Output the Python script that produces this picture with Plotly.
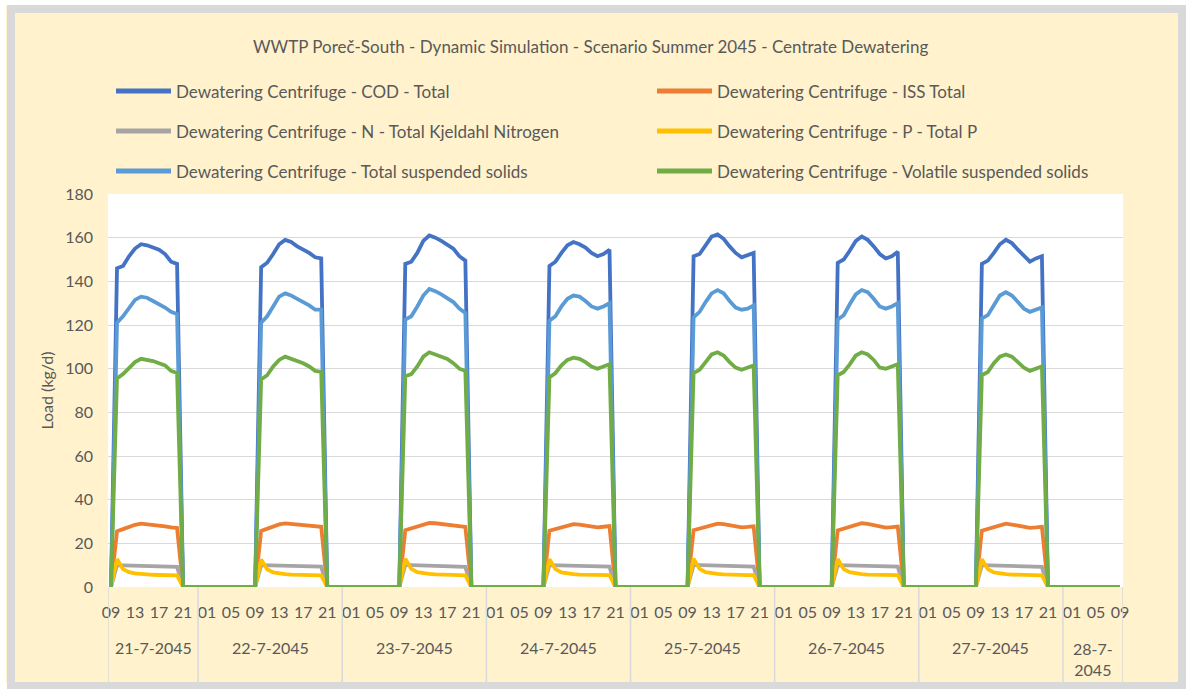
import plotly.graph_objects as go
import pandas as pd

# ---------------- data ----------------
title_text = "WWTP Poreč-South - Dynamic Simulation - Scenario Summer 2045 - Centrate Dewatering"
y_title = "Load (kg/d)"

series_names = [
    "Dewatering Centrifuge - COD - Total",
    "Dewatering Centrifuge - ISS Total",
    "Dewatering Centrifuge - N - Total Kjeldahl Nitrogen",
    "Dewatering Centrifuge - P - Total P",
    "Dewatering Centrifuge - Total suspended solids",
    "Dewatering Centrifuge - Volatile suspended solids",
]
series_colors = ["#4472C4", "#ED7D31", "#A5A5A5", "#FFC000", "#5B9BD5", "#70AD47"]

# hourly time stamps 21-7-2045 09:00 ... 28-7-2045 09:00
times = pd.date_range("2045-07-21 09:00", "2045-07-28 09:00", freq="h")

# centrifuge running hours each day (10:00 .. 20:00), one list per day
cod_days = [
    [146.0, 147.0, 151.5, 155.0, 157.0, 156.5, 155.5, 154.5, 152.5, 149.0, 148.0],
    [146.5, 148.5, 152.5, 157.0, 159.0, 158.0, 156.0, 154.5, 153.0, 151.0, 150.5],
    [148.0, 149.0, 153.0, 158.5, 161.0, 160.0, 158.5, 157.0, 155.0, 151.5, 149.5],
    [147.0, 149.0, 153.0, 156.5, 158.0, 157.0, 155.5, 153.0, 151.5, 152.5, 154.5],
    [151.5, 152.5, 156.5, 160.5, 161.5, 159.5, 156.0, 153.0, 151.0, 152.0, 153.0],
    [148.5, 150.0, 154.0, 158.5, 160.5, 159.0, 156.0, 152.5, 150.5, 151.5, 153.5],
    [148.0, 149.5, 153.0, 157.0, 159.0, 157.5, 154.5, 151.5, 149.0, 150.5, 151.5],
]
iss_days = [
    [25.5, 26.5, 27.5, 28.5, 29.0, 28.8, 28.5, 28.2, 27.8, 27.3, 27.0],
    [25.7, 26.7, 27.6, 28.7, 29.1, 28.9, 28.6, 28.3, 28.1, 27.9, 27.6],
    [26.0, 26.8, 27.7, 28.6, 29.3, 29.2, 28.9, 28.5, 28.2, 27.8, 27.5],
    [25.8, 26.6, 27.4, 28.3, 28.8, 28.6, 28.1, 27.6, 27.3, 27.6, 27.9],
    [26.0, 26.8, 27.6, 28.5, 29.0, 28.8, 28.2, 27.6, 27.3, 27.5, 27.8],
    [25.9, 26.7, 27.6, 28.5, 29.2, 28.9, 28.2, 27.5, 27.2, 27.4, 27.7],
    [25.8, 26.7, 27.5, 28.4, 29.0, 28.6, 28.0, 27.4, 27.1, 27.3, 27.6],
]
tkn_days = [
    [10.0, 9.9, 9.8, 9.8, 9.7, 9.7, 9.6, 9.5, 9.4, 9.3, 9.2],
    [10.0, 9.9, 9.9, 9.8, 9.8, 9.7, 9.6, 9.5, 9.4, 9.4, 9.3],
    [10.1, 10.0, 9.9, 9.9, 9.8, 9.7, 9.6, 9.5, 9.4, 9.3, 9.2],
    [10.0, 9.9, 9.8, 9.8, 9.7, 9.6, 9.5, 9.4, 9.3, 9.3, 9.3],
    [10.1, 10.0, 9.9, 9.8, 9.8, 9.7, 9.5, 9.4, 9.3, 9.3, 9.3],
    [10.0, 9.9, 9.9, 9.8, 9.7, 9.6, 9.5, 9.4, 9.3, 9.3, 9.3],
    [10.0, 9.9, 9.8, 9.8, 9.7, 9.6, 9.5, 9.4, 9.3, 9.3, 9.2],
]
tp_days = [
    [12.8, 8.2, 6.8, 6.2, 5.9, 5.7, 5.6, 5.5, 5.5, 5.4, 5.3],
    [12.6, 8.1, 6.7, 6.2, 5.9, 5.7, 5.6, 5.5, 5.4, 5.4, 5.3],
    [12.9, 8.3, 6.8, 6.3, 6.0, 5.8, 5.6, 5.5, 5.5, 5.4, 5.3],
    [12.7, 8.2, 6.7, 6.2, 5.9, 5.7, 5.6, 5.5, 5.4, 5.4, 5.4],
    [13.0, 8.3, 6.8, 6.3, 6.0, 5.8, 5.6, 5.5, 5.4, 5.4, 5.4],
    [12.8, 8.2, 6.8, 6.2, 5.9, 5.7, 5.6, 5.5, 5.4, 5.4, 5.4],
    [12.7, 8.2, 6.7, 6.2, 5.9, 5.7, 5.6, 5.5, 5.4, 5.4, 5.3],
]
tss_days = [
    [121.0, 124.0, 127.5, 131.5, 133.0, 132.5, 131.0, 129.5, 128.0, 126.0, 125.0],
    [121.0, 124.0, 128.5, 133.0, 134.5, 133.5, 132.0, 130.5, 129.0, 127.0, 127.0],
    [122.5, 124.0, 128.5, 133.5, 136.5, 135.5, 134.0, 132.5, 130.5, 127.5, 125.5],
    [122.0, 124.0, 128.5, 132.0, 133.5, 133.0, 131.0, 128.5, 127.5, 128.5, 130.0],
    [123.5, 126.0, 130.5, 134.5, 136.0, 134.5, 131.0, 128.0, 127.0, 127.5, 129.0],
    [122.5, 124.5, 129.5, 134.0, 136.0, 135.0, 132.0, 128.5, 127.5, 128.5, 130.0],
    [123.0, 124.5, 129.0, 133.5, 135.0, 133.5, 130.5, 127.5, 126.0, 127.0, 128.0],
]
vss_days = [
    [95.5, 97.5, 100.5, 103.0, 104.5, 104.0, 103.5, 102.5, 101.5, 99.0, 98.0],
    [95.0, 97.0, 101.0, 104.0, 105.5, 104.5, 103.5, 102.5, 101.0, 99.0, 98.5],
    [96.5, 97.5, 101.0, 105.5, 107.5, 106.5, 105.5, 104.5, 102.5, 100.0, 99.0],
    [96.0, 98.0, 101.5, 104.0, 105.0, 104.5, 103.0, 101.0, 100.0, 101.0, 102.0],
    [98.0, 99.5, 103.0, 106.5, 107.5, 106.0, 103.0, 100.5, 99.5, 100.5, 101.5],
    [97.0, 98.5, 102.0, 106.0, 107.5, 106.5, 104.0, 100.5, 100.0, 101.0, 102.0],
    [97.0, 98.5, 102.5, 105.5, 106.5, 105.5, 103.0, 100.5, 99.0, 100.0, 101.0],
]
# centrifuge stopped: 09:00 on the first day, and 21:00 .. 09:00 every night
start_value = [0]
night_values = [0, 0, 0, 0, 0, 0, 0, 0, 0, 0, 0, 0, 0]

hour_tick_labels = ["09", "13", "17", "21"] + ["01", "05", "09", "13", "17", "21"] * 6 + ["01", "05", "09"]
day_labels = ["21-7-2045", "22-7-2045", "23-7-2045", "24-7-2045",
              "25-7-2045", "26-7-2045", "27-7-2045", "28-7-<br>2045"]
day_starts = ["2045-07-21 08:30", "2045-07-21 23:30", "2045-07-22 23:30", "2045-07-23 23:30",
              "2045-07-24 23:30", "2045-07-25 23:30", "2045-07-26 23:30", "2045-07-27 23:30"]
day_ends = day_starts[1:] + ["2045-07-28 09:30"]


def full_series(days):
    out = list(start_value)
    for d in days:
        out += d + night_values
    return out


all_series = [full_series(d) for d in (cod_days, iss_days, tkn_days, tp_days, tss_days, vss_days)]

# ---------------- layout geometry ----------------
W, H = 1192, 689
ML, MR, MT, MB = 108, 69, 194, 102
PW, PH = W - ML - MR, H - MT - MB


def px(x):
    return (x - ML) / PW


def py(y):
    return (H - MB - y) / PH


FONT = "Lato"
TXT = "#595959"
GRID = "#D9D9D9"

fig = go.Figure()
for name, color, vals in zip(series_names, series_colors, all_series):
    fig.add_trace(go.Scatter(x=times, y=vals, mode="lines", name=name,
                             line=dict(color=color, width=3.8), showlegend=False))

shapes = []
annotations = []

# outer frame
shapes.append(dict(type="rect", xref="paper", yref="paper", x0=px(0), x1=px(W), y0=py(H), y1=py(0),
                   line=dict(color="white", width=12), fillcolor="rgba(0,0,0,0)", layer="below"))
shapes.append(dict(type="rect", xref="paper", yref="paper", x0=px(11), x1=px(1182), y0=py(686), y1=py(9),
                   line=dict(color="#D9D9D9", width=8), fillcolor="rgba(0,0,0,0)", layer="below"))

# manual legend
for i, (name, color) in enumerate(zip(series_names, series_colors)):
    row, col = i // 2, i % 2
    yy = 91 + row * 40
    x0 = 116 + col * 541
    shapes.append(dict(type="line", xref="paper", yref="paper", x0=px(x0), x1=px(x0 + 55),
                       y0=py(yy), y1=py(yy), line=dict(color=color, width=5)))
    annotations.append(dict(text=name, xref="paper", yref="paper", x=px(x0 + 58), y=py(yy),
                            xanchor="left", yanchor="middle", showarrow=False,
                            font=dict(family=FONT, size=17, color=TXT)))

# category group separators and date labels
for s in day_starts + [day_ends[-1]]:
    shapes.append(dict(type="line", xref="x", yref="paper", x0=s, x1=s, y0=0, y1=py(683),
                       line=dict(color=GRID, width=1.5)))
for lab, s, e in zip(day_labels, day_starts, day_ends):
    mid = pd.Timestamp(s) + (pd.Timestamp(e) - pd.Timestamp(s)) / 2
    ylab = py(647) if "<br>" not in lab else py(659)
    annotations.append(dict(text=lab, xref="x", yref="paper", x=mid, y=ylab,
                            xanchor="center", yanchor="middle", showarrow=False,
                            font=dict(family=FONT, size=16, color=TXT)))

# title
annotations.append(dict(text=title_text, xref="paper", yref="paper", x=px(590), y=py(46),
                        xanchor="center", yanchor="middle", showarrow=False,
                        font=dict(family=FONT, size=17, color=TXT)))

fig.update_layout(
    width=W, height=H,
    margin=dict(l=ML, r=MR, t=MT, b=MB, pad=0),
    paper_bgcolor="#FFF2CC",
    plot_bgcolor="white",
    shapes=shapes,
    annotations=annotations,
    showlegend=False,
    font=dict(family=FONT, color=TXT),
)
fig.update_xaxes(
    type="date",
    range=["2045-07-21 08:30", "2045-07-28 09:30"],
    tickvals=list(times[::4]), ticktext=hour_tick_labels,
    showgrid=False, zeroline=False, showline=False, ticks="",
    ticklabelstandoff=14,
    tickfont=dict(family=FONT, size=16, color=TXT),
)
fig.update_yaxes(
    range=[0, 180], dtick=20, tick0=0,
    showgrid=True, gridcolor=GRID, gridwidth=1.3,
    zeroline=False, showline=False, ticks="",
    ticklabelstandoff=14,
    tickfont=dict(family=FONT, size=16, color=TXT),
    title=dict(text=y_title, font=dict(family=FONT, size=16, color=TXT), standoff=7),
)

fig.write_html("out.html", config={"displayModeBar": False},
               post_script="document.body.style.margin='0';document.body.style.overflow='hidden';")
